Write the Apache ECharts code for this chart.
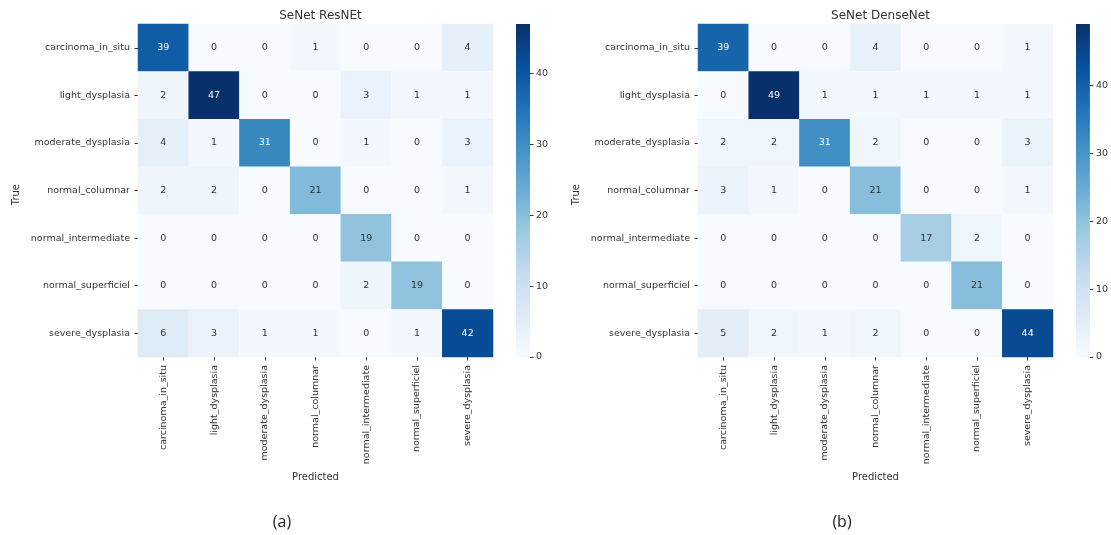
<!DOCTYPE html>
<html>
<head>
<meta charset="utf-8">
<script src="https://cdn.jsdelivr.net/npm/echarts@6/dist/echarts.min.js"></script>
<style>
  html, body { margin: 0; padding: 0; background: #ffffff; }
  #chart { width: 1111px; height: 535px; }
</style>
</head>
<body>
<div id="chart"></div>
<script>
// Class names shared by both confusion matrices (rows = true, columns = predicted)
const classes = [
  'carcinoma_in_situ', 'light_dysplasia', 'moderate_dysplasia',
  'normal_columnar', 'normal_intermediate', 'normal_superficiel', 'severe_dysplasia'
];

// SeNet ResNEt confusion matrix
const resnetCounts = [
  [39, 0, 0, 1, 0, 0, 4],
  [2, 47, 0, 0, 3, 1, 1],
  [4, 1, 31, 0, 1, 0, 3],
  [2, 2, 0, 21, 0, 0, 1],
  [0, 0, 0, 0, 19, 0, 0],
  [0, 0, 0, 0, 2, 19, 0],
  [6, 3, 1, 1, 0, 1, 42]
];

// SeNet DenseNet confusion matrix
const densenetCounts = [
  [39, 0, 0, 4, 0, 0, 1],
  [0, 49, 1, 1, 1, 1, 1],
  [2, 2, 31, 2, 0, 0, 3],
  [3, 1, 0, 21, 0, 0, 1],
  [0, 0, 0, 0, 17, 2, 0],
  [0, 0, 0, 0, 0, 21, 0],
  [5, 2, 1, 2, 0, 0, 44]
];

const panelTitles = ['SeNet ResNEt', 'SeNet DenseNet'];
const panelTags = ['(a)', '(b)'];
const colorbarTicks = [0, 10, 20, 30, 40];

// Matplotlib "Blues" colormap stops
const blues = ['#f7fbff', '#deebf7', '#c6dbef', '#9ecae1', '#6baed6',
               '#4292c6', '#2171b5', '#08519c', '#08306b'];

const FONT = 'DejaVu Sans';
const TEXT = '#333333';

function matrixMax(m) {
  return Math.max.apply(null, m.map(r => Math.max.apply(null, r)));
}

function toCells(m) {
  const max = matrixMax(m);
  const cells = [];
  m.forEach((row, yi) => {
    row.forEach((v, xi) => {
      cells.push({
        value: [xi, yi, v],
        label: { color: v / max > 0.55 ? '#ffffff' : '#333333' }
      });
    });
  });
  return cells;
}

function blueGradient() {
  return {
    type: 'linear', x: 0, y: 1, x2: 0, y2: 0,
    colorStops: blues.map((c, i) => ({ offset: i / (blues.length - 1), color: c }))
  };
}

const matrices = [resnetCounts, densenetCounts];
const gridLeft = [138, 698];
const barLeft = [516, 1076];
const GRID_TOP = 24;
const GRID_W = 355;
const GRID_H = 333;

const grids = [], xAxes = [], yAxes = [], series = [], visualMaps = [], titles = [];

matrices.forEach((m, p) => {
  const max = matrixMax(m);
  const cx = gridLeft[p] + GRID_W / 2;

  // heatmap grid
  grids.push({ left: gridLeft[p], top: GRID_TOP, width: GRID_W, height: GRID_H });
  // colorbar grid
  grids.push({ left: barLeft[p], top: GRID_TOP, width: 14, height: GRID_H });

  xAxes.push({
    type: 'category', gridIndex: 2 * p, data: classes, position: 'bottom',
    name: 'Predicted', nameLocation: 'middle', nameGap: 111,
    nameTextStyle: { fontFamily: FONT, fontSize: 10, color: TEXT },
    axisLine: { show: false },
    axisTick: { show: true, alignWithLabel: true, length: 3.5, lineStyle: { color: TEXT } },
    axisLabel: { rotate: 90, fontFamily: FONT, fontSize: 9.5, color: TEXT, margin: 8, interval: 0 },
    splitLine: { show: false }
  });
  yAxes.push({
    type: 'category', gridIndex: 2 * p, data: classes, inverse: true,
    name: p === 0 ? 'True' : '', nameLocation: 'middle', nameGap: 0,
    axisLine: { show: false },
    axisTick: { show: true, alignWithLabel: true, length: 3.5, lineStyle: { color: TEXT } },
    axisLabel: { fontFamily: FONT, fontSize: 9.5, color: TEXT, margin: 8, interval: 0 },
    splitLine: { show: false }
  });

  xAxes.push({
    type: 'category', gridIndex: 2 * p + 1, data: [''],
    axisLine: { show: false }, axisTick: { show: false }, axisLabel: { show: false }
  });
  yAxes.push({
    type: 'value', gridIndex: 2 * p + 1, min: 0, max: max, position: 'right',
    axisLine: { show: false },
    splitLine: { show: false },
    axisTick: { show: true, inside: false, length: 3.5, lineStyle: { color: TEXT }, customValues: colorbarTicks },
    axisLabel: { fontFamily: FONT, fontSize: 9.5, color: TEXT, margin: 6, customValues: colorbarTicks }
  });

  series.push({
    type: 'heatmap', xAxisIndex: 2 * p, yAxisIndex: 2 * p,
    data: toCells(m),
    label: { show: true, fontFamily: FONT, fontSize: 9.5 },
    emphasis: { disabled: true }
  });
  series.push({
    type: 'bar', xAxisIndex: 2 * p + 1, yAxisIndex: 2 * p + 1,
    data: [max], barWidth: '100%', silent: true,
    itemStyle: { color: blueGradient() }
  });

  visualMaps.push({
    show: false, type: 'continuous', seriesIndex: 2 * p, dimension: 2,
    min: 0, max: max, inRange: { color: blues }
  });

  titles.push({
    text: panelTitles[p], left: cx, top: 5, textAlign: 'center',
    textStyle: { fontFamily: FONT, fontSize: 12, fontWeight: 'normal', color: TEXT }
  });
  titles.push({
    text: panelTags[p], left: [277, 837][p], top: 509, textAlign: 'center',
    textStyle: { fontFamily: 'Open Sans', fontSize: 16, fontWeight: 'normal', color: '#222222' }
  });
});

// "True" y-axis captions for each panel
const trueCaptions = [17, 577].map(x => ({
  type: 'text', left: x - 6, top: 184, rotation: Math.PI / 2,
  style: { text: 'True', fontFamily: FONT, fontSize: 10, fill: TEXT }
}));

const chart = echarts.init(document.getElementById('chart'), null, { renderer: 'canvas' });
chart.setOption({
  backgroundColor: '#ffffff',
  animation: false,
  title: titles,
  grid: grids,
  xAxis: xAxes,
  yAxis: yAxes.map(a => Object.assign({}, a, { name: '' })),
  visualMap: visualMaps,
  series: series,
  graphic: trueCaptions
});
</script>
</body>
</html>
